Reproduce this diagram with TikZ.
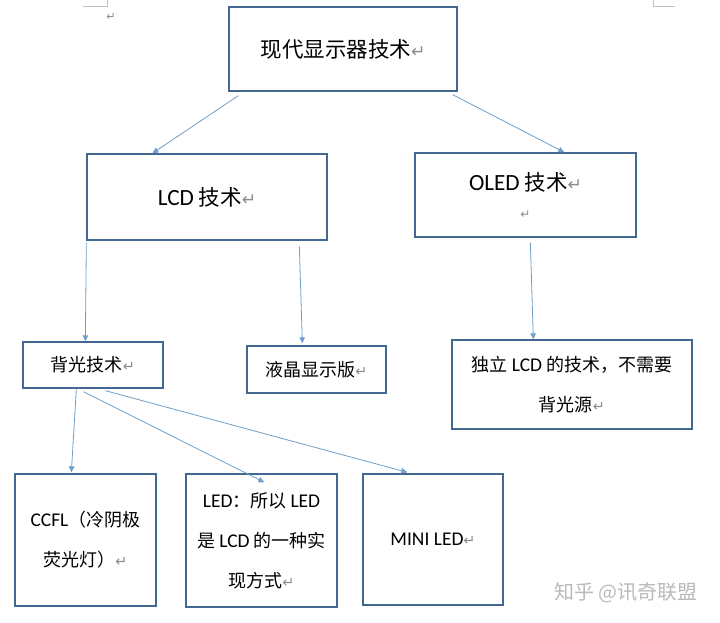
\documentclass[tikz,border=0pt]{standalone}
\usepackage{fontspec}
\usepackage{graphicx}
\setmainfont{Noto Sans CJK SC}
\newfontfamily\lat[Scale=1.08]{Carlito}
\newfontfamily\symf{DejaVu Sans}
\usetikzlibrary{arrows.meta,calc}
\definecolor{boxc}{RGB}{66,104,145}
\definecolor{arrc}{RGB}{112,158,200}
\definecolor{retc}{RGB}{140,140,140}
\definecolor{wmc}{RGB}{185,185,185}
\newcommand{\rt}{{\color{retc}\symf\scalebox{0.8}{↵}}}
\tikzset{
  box/.style={draw=boxc, line width=1.3pt, inner sep=0pt, align=center, text=black},
  big/.style={font=\fontsize{21.5}{30}\selectfont},
  small/.style={font=\fontsize{18}{40}\selectfont},
  arr/.style={draw=arrc, line width=0.8pt, -{Triangle[length=6pt,width=5.5pt]}},
  cornermark/.style={draw=gray!50, line width=0.6pt}
}
\begin{document}
\begin{tikzpicture}[x=1pt,y=1pt]
\useasboundingbox (0,0) rectangle (720,623);
% page corner marks
\draw[cornermark] (83,617) -- (107,617) -- (107,623);
\draw[cornermark] (653,623) -- (653,617) -- (675,617);
\node[inner sep=0pt, font=\fontsize{14}{14}\selectfont] (pm) at (111,606) {\rt};
% boxes
\node[box, big, minimum width=228, minimum height=84] (top) at (343,574) {现代显示器技术\rt};
\node[box, big, minimum width=240, minimum height=86] (lcd) at (207,426) {{\lat LCD} 技术\rt};
\node[box, big, minimum width=221, minimum height=84] (oled) at (525.5,428) {{\lat OLED} 技术\rt\\[-2pt]{\fontsize{15}{15}\selectfont\rt}};
\node[box, small, minimum width=140, minimum height=46] (bl) at (93,258) {背光技术\rt};
\node[box, small, minimum width=139, minimum height=47] (lc) at (316.5,253.5) {液晶显示版\rt};
\node[box, small, minimum width=240, minimum height=89] (ind) at (572,238.5) {独立 {\lat LCD} 的技术，不需要\\背光源\rt};
\node[box, small, minimum width=141, minimum height=132] (ccfl) at (85.5,83) {{\lat CCFL}（冷阴极\\荧光灯）\rt};
\node[box, small, minimum width=151, minimum height=133] (led) at (261.5,82.5) {{\lat LED}：所以 {\lat LED}\\是 {\lat LCD} 的一种实\\现方式\rt};
\node[box, small, minimum width=140, minimum height=131] (mini) at (433,83.5) {{\lat MINI LED}\rt};
% connector end points
\coordinate (s1) at ($(top.south west)+(10,-4)$);
\coordinate (e1) at ($(lcd.north west)+(66,0)$);
\coordinate (s2) at ($(top.south east)+(-5,-3)$);
\coordinate (e2) at ($(oled.north west)+(150,0)$);
\coordinate (s3) at ($(lcd.south west)+(0,-2)$);
\coordinate (e3) at ($(bl.north west)+(63,0)$);
\coordinate (s4) at ($(lcd.south west)+(213,-6)$);
\coordinate (e4) at ($(lc.north west)+(56,2)$);
\coordinate (s5) at ($(oled.south west)+(116,-5)$);
\coordinate (e5) at ($(ind.north west)+(82,0)$);
\coordinate (s6) at ($(bl.south west)+(54,0)$);
\coordinate (e6) at ($(ccfl.north west)+(57,1)$);
\coordinate (s7) at ($(bl.south west)+(61,-3)$);
\coordinate (e7) at ($(led.north west)+(79,-9)$);
\coordinate (s8) at ($(bl.south west)+(83,-2)$);
\coordinate (e8) at ($(mini.north west)+(45,1)$);
\draw[arr] (s1) -- (e1);
\draw[arr] (s2) -- (e2);
\draw[arr] (s3) -- (e3);
\draw[arr] (s4) -- (e4);
\draw[arr] (s5) -- (e5);
\draw[arr] (s6) -- (e6);
\draw[arr] (s7) -- (e7);
\draw[arr] (s8) -- (e8);
% watermark
\node[text=wmc, font=\fontsize{20}{24}\selectfont, inner sep=0pt] (wm) at (626,30) {知乎 @讯奇联盟};
\end{tikzpicture}
\end{document}
